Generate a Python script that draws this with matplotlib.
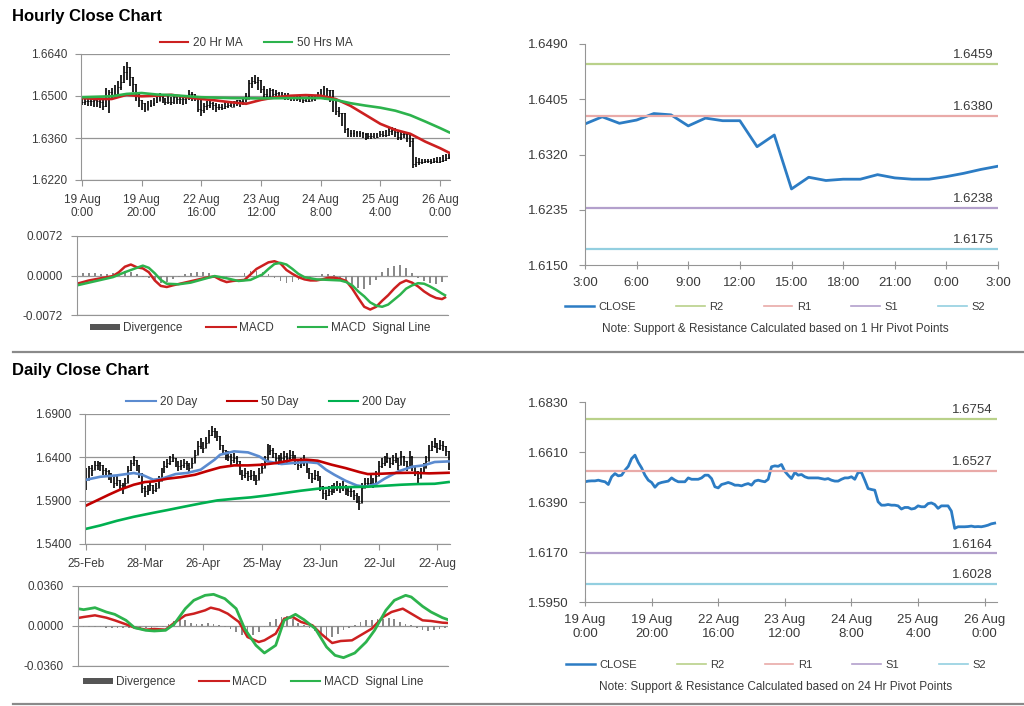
import matplotlib
matplotlib.use('Agg')
import matplotlib.pyplot as plt
from matplotlib.lines import Line2D
from matplotlib.patches import Patch
import numpy as np

plt.rcParams['font.family'] = ['Liberation Sans', 'DejaVu Sans']

# ---------------- hourly data (19 Aug 0:00 -> 26 Aug ~3:00) ----------------
hour_labels = ['19 Aug\n0:00', '19 Aug\n20:00', '22 Aug\n16:00', '23 Aug\n12:00',
               '24 Aug\n8:00', '25 Aug\n4:00', '26 Aug\n0:00']
hour_ticks = [0, 20, 40, 60, 80, 100, 120]

hourly_close = [1.6479, 1.6482, 1.6483, 1.6483, 1.6486, 1.6482, 1.6479, 1.6467, 1.6501, 1.6515,
                1.6505, 1.6508, 1.6530, 1.6547, 1.6581, 1.6596, 1.6564, 1.6540, 1.6508, 1.6486,
                1.6476, 1.6455, 1.6471, 1.6476, 1.6479, 1.6482, 1.6496, 1.6486, 1.6479, 1.6479,
                1.6479, 1.6496, 1.6490, 1.6490, 1.6490, 1.6496, 1.6508, 1.6508, 1.6493, 1.6457,
                1.6452, 1.6467, 1.6471, 1.6476, 1.6471, 1.6464, 1.6464, 1.6461, 1.6467, 1.6471,
                1.6464, 1.6482, 1.6486, 1.6482, 1.6479, 1.6490, 1.6545, 1.6549, 1.6547, 1.6555,
                1.6525, 1.6508, 1.6493, 1.6520, 1.6508, 1.6511, 1.6501, 1.6496, 1.6496, 1.6496,
                1.6496, 1.6493, 1.6490, 1.6493, 1.6486, 1.6482, 1.6482, 1.6490, 1.6496, 1.6496,
                1.6501, 1.6490, 1.6520, 1.6520, 1.6486, 1.6449, 1.6445, 1.6442, 1.6391, 1.6376,
                1.6376, 1.6379, 1.6376, 1.6376, 1.6373, 1.6359, 1.6366, 1.6366, 1.6359, 1.6362,
                1.6373, 1.6369, 1.6369, 1.6383, 1.6386, 1.6379, 1.6362, 1.6373, 1.6373, 1.6373,
                1.6350, 1.6274, 1.6281, 1.6281, 1.6281, 1.6282, 1.6284, 1.6281, 1.6282, 1.6281,
                1.6284, 1.6288, 1.6294, 1.6297]

hourly_high = [1.6499, 1.6496, 1.6493, 1.6490, 1.6490, 1.6487, 1.6487, 1.6487, 1.6526, 1.6521,
               1.6526, 1.6538, 1.6549, 1.6571, 1.6599, 1.6615, 1.6593, 1.6560, 1.6532, 1.6504,
               1.6487, 1.6476, 1.6482, 1.6487, 1.6493, 1.6504, 1.6510, 1.6501, 1.6493, 1.6499,
               1.6496, 1.6499, 1.6496, 1.6499, 1.6499, 1.6499, 1.6521, 1.6512, 1.6504, 1.6493,
               1.6487, 1.6476, 1.6482, 1.6482, 1.6479, 1.6476, 1.6474, 1.6474, 1.6479, 1.6482,
               1.6485, 1.6485, 1.6487, 1.6487, 1.6490, 1.6510, 1.6554, 1.6565, 1.6571, 1.6563,
               1.6554, 1.6534, 1.6523, 1.6526, 1.6523, 1.6519, 1.6515, 1.6514, 1.6510, 1.6510,
               1.6505, 1.6504, 1.6501, 1.6499, 1.6496, 1.6496, 1.6499, 1.6503, 1.6505, 1.6514,
               1.6525, 1.6532, 1.6527, 1.6512, 1.6493, 1.6482, 1.6465, 1.6443, 1.6412, 1.6394,
               1.6387, 1.6387, 1.6383, 1.6382, 1.6380, 1.6376, 1.6376, 1.6376, 1.6376, 1.6378,
               1.6382, 1.6383, 1.6387, 1.6393, 1.6398, 1.6393, 1.6387, 1.6382, 1.6382, 1.6378,
               1.6376, 1.6359, 1.6298, 1.6292, 1.6289, 1.6289, 1.6289, 1.6291, 1.6292, 1.6296,
               1.6298, 1.6302, 1.6307, 1.6307]

hourly_low = [1.6471, 1.6470, 1.6467, 1.6467, 1.6465, 1.6465, 1.6460, 1.6454, 1.6465, 1.6443,
              1.6487, 1.6493, 1.6504, 1.6521, 1.6543, 1.6554, 1.6532, 1.6515, 1.6482, 1.6465,
              1.6454, 1.6448, 1.6460, 1.6465, 1.6467, 1.6476, 1.6482, 1.6476, 1.6471, 1.6474,
              1.6471, 1.6474, 1.6472, 1.6474, 1.6471, 1.6473, 1.6487, 1.6482, 1.6482, 1.6448,
              1.6432, 1.6443, 1.6454, 1.6460, 1.6454, 1.6448, 1.6454, 1.6454, 1.6456, 1.6460,
              1.6463, 1.6465, 1.6467, 1.6465, 1.6470, 1.6482, 1.6504, 1.6526, 1.6541, 1.6521,
              1.6510, 1.6493, 1.6492, 1.6499, 1.6496, 1.6493, 1.6492, 1.6492, 1.6487, 1.6487,
              1.6485, 1.6482, 1.6482, 1.6481, 1.6476, 1.6479, 1.6481, 1.6485, 1.6483, 1.6492,
              1.6496, 1.6499, 1.6494, 1.6479, 1.6448, 1.6437, 1.6429, 1.6400, 1.6376, 1.6365,
              1.6365, 1.6365, 1.6365, 1.6363, 1.6360, 1.6354, 1.6358, 1.6356, 1.6359, 1.6363,
              1.6365, 1.6365, 1.6365, 1.6367, 1.6370, 1.6365, 1.6354, 1.6354, 1.6359, 1.6348,
              1.6331, 1.6259, 1.6265, 1.6270, 1.6273, 1.6276, 1.6276, 1.6273, 1.6276, 1.6276,
              1.6278, 1.6281, 1.6285, 1.6289]

ma20_idx = [0, 5, 10, 15, 20, 25, 30, 35, 40, 45, 50, 55, 60, 65, 70, 75, 80, 85, 90, 95,
            100, 105, 110, 115, 120, 123]
ma20_hr = [1.6493, 1.6490, 1.6490, 1.6504, 1.6499, 1.6501, 1.6504, 1.6496, 1.6490, 1.6485,
           1.6479, 1.6474, 1.6487, 1.6496, 1.6501, 1.6503, 1.6501, 1.6490, 1.6467, 1.6437,
           1.6407, 1.6387, 1.6374, 1.6348, 1.6326, 1.6311]
ma50_idx = [0, 10, 15, 20, 25, 30, 40, 50, 60, 70, 80, 85, 90, 95, 100, 105, 110, 115, 120, 123]
ma50_hr = [1.6496, 1.6499, 1.6507, 1.6510, 1.6505, 1.6503, 1.6496, 1.6493, 1.6492, 1.6493,
           1.6493, 1.6487, 1.6476, 1.6468, 1.6461, 1.6451, 1.6436, 1.6415, 1.6393, 1.6379]

# hourly MACD
hmacd_idx = [0, 4, 8, 12, 14, 16, 18, 20, 22, 24, 26, 28, 30, 32, 36, 40, 44, 46, 48, 50,
             52, 56, 58, 60, 62, 64, 66, 68, 70, 72, 74, 76, 78, 80, 82, 84, 86, 88, 90, 92,
             94, 96, 98, 100, 102, 104, 106, 108, 110, 112, 114, 116, 118, 120, 122, 123]
hmacd = [-0.0015, -0.0009, -0.0005, -0.0001, 0.0006, 0.0016, 0.0020, 0.0015, 0.0013, 0.0006,
         -0.0009, -0.0019, -0.0021, -0.0018, -0.0013, -0.0008, -0.0003, -0.0002, -0.0008, -0.0012,
         -0.0010, -0.0008, 0.0002, 0.0012, 0.0018, 0.0024, 0.0026, 0.0022, 0.0010, 0.0003,
         -0.0003, -0.0007, -0.0009, -0.0009, -0.0007, -0.0004, -0.0004, -0.0006, -0.0010, -0.0024,
         -0.0041, -0.0057, -0.0062, -0.0057, -0.0046, -0.0036, -0.0024, -0.0014, -0.0009, -0.0013,
         -0.0020, -0.0029, -0.0036, -0.0041, -0.0043, -0.0040]
hsig_idx = [0, 4, 8, 12, 16, 20, 22, 24, 26, 28, 30, 34, 38, 42, 46, 50, 54, 58, 62, 64,
            66, 68, 70, 72, 74, 76, 80, 84, 88, 90, 92, 94, 96, 98, 100, 102, 104, 106, 108, 110,
            112, 114, 116, 118, 120, 122, 123]
hsig = [-0.0018, -0.0013, -0.0008, -0.0003, 0.0006, 0.0014, 0.0018, 0.0014, 0.0004, -0.0008,
        -0.0015, -0.0016, -0.0013, -0.0007, -0.0001, -0.0005, -0.0010, -0.0008, 0.0002, 0.0012,
        0.0021, 0.0023, 0.0020, 0.0012, 0.0003, -0.0003, -0.0007, -0.0008, -0.0009, -0.0012,
        -0.0018, -0.0029, -0.0038, -0.0049, -0.0055, -0.0057, -0.0053, -0.0044, -0.0035, -0.0024,
        -0.0018, -0.0014, -0.0015, -0.0020, -0.0026, -0.0033, -0.0036]
hdiv = [0.0003, 0.0004, 0.0005, 0.0005, 0.0003, 0.0002, 0.0004, 0.0007, 0.0009, 0.0006,
        0.0002, -0.0002, -0.0005, -0.0010, -0.0014, -0.0012, -0.0007, -0.0002, 0.0003, 0.0005,
        0.0006, 0.0006, 0.0004, 0.0001, -0.0003, -0.0004, -0.0003, 0.0000, 0.0004, 0.0008,
        0.0009, 0.0007, 0.0003, -0.0004, -0.0010, -0.0014, -0.0012, -0.0008, -0.0005, -0.0004,
        -0.0002, 0.0002, 0.0003, 0.0001, -0.0005, -0.0010, -0.0016, -0.0022, -0.0024, -0.0018,
        -0.0008, 0.0006, 0.0014, 0.0018, 0.0020, 0.0014, 0.0004, -0.0004, -0.0010, -0.0014,
        -0.0015, -0.0012]

# last 24 hours (1 Hr pivots)
last24_labels = ['3:00', '6:00', '9:00', '12:00', '15:00', '18:00', '21:00', '0:00', '3:00']
last24_close = [1.6367, 1.6378, 1.6368, 1.6373, 1.6383, 1.6381, 1.6364, 1.6376, 1.6372, 1.6372,
                1.6332, 1.6350, 1.6267, 1.6285, 1.6280, 1.6282, 1.6282, 1.6289, 1.6284, 1.6282,
                1.6282, 1.6286, 1.6291, 1.6297, 1.6302]
pivot_1h = {'R2': 1.6459, 'R1': 1.6380, 'S1': 1.6238, 'S2': 1.6175}
pivot_24h = {'R2': 1.6754, 'R1': 1.6527, 'S1': 1.6164, 'S2': 1.6028}

# ---------------- daily data (25-Feb -> 26-Aug) ----------------
day_labels = ['25-Feb', '28-Mar', '26-Apr', '25-May', '23-Jun', '22-Jul', '22-Aug']
day_ticks = [0, 21, 42, 63, 84, 105, 126]

daily_close = [1.6142, 1.6276, 1.6257, 1.6315, 1.6334, 1.6315, 1.6257, 1.6238, 1.6219, 1.6180,
               1.6103, 1.6142, 1.6084, 1.6045, 1.6103, 1.6257, 1.6334, 1.6373, 1.6315, 1.6219,
               1.6045, 1.6007, 1.6026, 1.6084, 1.6026, 1.6045, 1.6122, 1.6219, 1.6296, 1.6334,
               1.6353, 1.6392, 1.6334, 1.6296, 1.6315, 1.6334, 1.6315, 1.6276, 1.6334, 1.6430,
               1.6527, 1.6565, 1.6507, 1.6565, 1.6661, 1.6700, 1.6681, 1.6642, 1.6546, 1.6488,
               1.6430, 1.6411, 1.6373, 1.6392, 1.6353, 1.6257, 1.6199, 1.6219, 1.6180, 1.6199,
               1.6180, 1.6142, 1.6219, 1.6276, 1.6353, 1.6469, 1.6488, 1.6450, 1.6392, 1.6373,
               1.6392, 1.6411, 1.6392, 1.6430, 1.6411, 1.6373, 1.6315, 1.6334, 1.6353, 1.6276,
               1.6219, 1.6161, 1.6199, 1.6180, 1.6065, 1.5988, 1.5968, 1.6007, 1.6026, 1.6045,
               1.6065, 1.6045, 1.6065, 1.6026, 1.6007, 1.6007, 1.5968, 1.5930, 1.5872, 1.6045,
               1.6103, 1.6103, 1.6142, 1.6103, 1.6180, 1.6296, 1.6334, 1.6353, 1.6392, 1.6334,
               1.6373, 1.6392, 1.6315, 1.6411, 1.6353, 1.6296, 1.6411, 1.6296, 1.6238, 1.6161,
               1.6219, 1.6276, 1.6353, 1.6488, 1.6527, 1.6565, 1.6507, 1.6546, 1.6527, 1.6469,
               1.6315]
daily_high = [1.6276, 1.6296, 1.6315, 1.6361, 1.6361, 1.6346, 1.6315, 1.6276, 1.6257, 1.6219,
              1.6180, 1.6180, 1.6142, 1.6103, 1.6161, 1.6296, 1.6373, 1.6411, 1.6373, 1.6296,
              1.6122, 1.6065, 1.6084, 1.6130, 1.6084, 1.6103, 1.6180, 1.6276, 1.6353, 1.6384,
              1.6411, 1.6438, 1.6392, 1.6353, 1.6373, 1.6384, 1.6361, 1.6334, 1.6392, 1.6488,
              1.6584, 1.6623, 1.6577, 1.6630, 1.6719, 1.6758, 1.6738, 1.6700, 1.6604, 1.6546,
              1.6488, 1.6469, 1.6438, 1.6450, 1.6411, 1.6315, 1.6257, 1.6276, 1.6238, 1.6257,
              1.6238, 1.6199, 1.6276, 1.6334, 1.6411, 1.6553, 1.6546, 1.6507, 1.6450, 1.6430,
              1.6450, 1.6469, 1.6450, 1.6488, 1.6469, 1.6430, 1.6373, 1.6392, 1.6430, 1.6334,
              1.6276, 1.6219, 1.6257, 1.6238, 1.6122, 1.6045, 1.6026, 1.6065, 1.6084, 1.6103,
              1.6122, 1.6103, 1.6122, 1.6084, 1.6065, 1.6065, 1.6026, 1.5988, 1.5949, 1.6103,
              1.6161, 1.6161, 1.6199, 1.6161, 1.6238, 1.6353, 1.6392, 1.6411, 1.6450, 1.6392,
              1.6430, 1.6450, 1.6373, 1.6469, 1.6411, 1.6353, 1.6469, 1.6353, 1.6296, 1.6219,
              1.6276, 1.6334, 1.6411, 1.6546, 1.6584, 1.6623, 1.6565, 1.6604, 1.6584, 1.6527,
              1.6373]
daily_low = [1.6026, 1.6142, 1.6180, 1.6257, 1.6257, 1.6238, 1.6199, 1.6169, 1.6142, 1.6103,
             1.6045, 1.6065, 1.6026, 1.5976, 1.6045, 1.6122, 1.6238, 1.6296, 1.6238, 1.6161,
             1.5988, 1.5938, 1.5968, 1.6007, 1.5976, 1.5999, 1.6065, 1.6161, 1.6238, 1.6276,
             1.6315, 1.6346, 1.6284, 1.6245, 1.6257, 1.6276, 1.6257, 1.6219, 1.6276, 1.6373,
             1.6469, 1.6500, 1.6450, 1.6507, 1.6604, 1.6642, 1.6623, 1.6584, 1.6488, 1.6430,
             1.6373, 1.6353, 1.6315, 1.6334, 1.6296, 1.6199, 1.6142, 1.6161, 1.6122, 1.6142,
             1.6122, 1.6076, 1.6161, 1.6219, 1.6296, 1.6423, 1.6430, 1.6392, 1.6334, 1.6315,
             1.6334, 1.6353, 1.6334, 1.6373, 1.6353, 1.6315, 1.6257, 1.6276, 1.6296, 1.6219,
             1.6153, 1.6103, 1.6142, 1.6122, 1.6007, 1.5922, 1.5911, 1.5949, 1.5968, 1.5988,
             1.6007, 1.5988, 1.6007, 1.5968, 1.5949, 1.5938, 1.5911, 1.5872, 1.5795, 1.5968,
             1.6045, 1.6045, 1.6076, 1.6045, 1.6122, 1.6238, 1.6276, 1.6296, 1.6334, 1.6276,
             1.6315, 1.6334, 1.6257, 1.6353, 1.6296, 1.6238, 1.6353, 1.6238, 1.6180, 1.6103,
             1.6161, 1.6219, 1.6296, 1.6430, 1.6469, 1.6507, 1.6450, 1.6488, 1.6469, 1.6411,
             1.6257]

ma20d_idx = [0, 5, 11, 17, 20, 24, 27, 32, 36, 41, 46, 48, 53, 58, 62, 65, 70, 74, 79, 83,
             86, 89, 93, 97, 100, 104, 107, 112, 117, 121, 125, 130]
ma20_day = [1.6142, 1.6176, 1.6192, 1.6219, 1.6199, 1.6142, 1.6153, 1.6207, 1.6219, 1.6257,
            1.6373, 1.6430, 1.6469, 1.6457, 1.6411, 1.6353, 1.6323, 1.6334, 1.6346, 1.6334,
            1.6257, 1.6199, 1.6130, 1.6076, 1.6061, 1.6092, 1.6153, 1.6238, 1.6292, 1.6307,
            1.6346, 1.6353]
ma50d_idx = [0, 3, 8, 12, 17, 21, 24, 29, 34, 39, 43, 48, 53, 58, 63, 68, 74, 79, 83, 88,
             93, 98, 101, 106, 111, 117, 123, 130]
ma50_day = [1.5845, 1.5891, 1.5968, 1.6026, 1.6084, 1.6115, 1.6122, 1.6153, 1.6172, 1.6199,
            1.6238, 1.6284, 1.6307, 1.6307, 1.6315, 1.6334, 1.6369, 1.6373, 1.6361, 1.6315,
            1.6276, 1.6230, 1.6207, 1.6211, 1.6219, 1.6222, 1.6215, 1.6222]
ma200d_idx = [0, 5, 11, 17, 24, 29, 35, 41, 47, 53, 59, 65, 71, 77, 83, 89, 95, 101, 107, 113,
              119, 125, 130]
ma200_day = [1.5576, 1.5614, 1.5668, 1.5714, 1.5760, 1.5791, 1.5830, 1.5868, 1.5903, 1.5922,
             1.5938, 1.5961, 1.5988, 1.6015, 1.6038, 1.6053, 1.6057, 1.6061, 1.6072, 1.6084,
             1.6092, 1.6095, 1.6115]

dmacd_idx = [0, 2, 6, 10, 13, 17, 20, 24, 27, 31, 34, 38, 41, 45, 47, 50, 53, 57, 60, 64,
             66, 70, 73, 76, 79, 83, 86, 90, 93, 97, 101, 104, 108, 111, 115, 118, 122, 125, 129, 131]
dmacd = [0.0072, 0.0081, 0.0096, 0.0075, 0.0051, 0.0015, -0.0015, -0.0033, -0.0027, -0.0033,
         0.0027, 0.0096, 0.0111, 0.0141, 0.0165, 0.0147, 0.0111, 0.0036, -0.0099, -0.0144,
         -0.0129, -0.0069, 0.0066, 0.0081, 0.0036, 0.0006, -0.0069, -0.0153, -0.0135, -0.0129,
         -0.0069, -0.0024, 0.0081, 0.0126, 0.0156, 0.0111, 0.0051, 0.0045, 0.0030, 0.0027]
dsig_idx = [0, 2, 6, 10, 13, 17, 20, 24, 27, 31, 34, 38, 41, 45, 48, 52, 56, 59, 63, 66,
            70, 73, 77, 80, 84, 88, 91, 94, 98, 102, 105, 109, 112, 116, 118, 122, 125, 129, 131]
dsig = [0.0156, 0.0147, 0.0165, 0.0126, 0.0105, 0.0051, -0.0015, -0.0039, -0.0045, -0.0039,
        0.0015, 0.0156, 0.0231, 0.0276, 0.0285, 0.0246, 0.0156, -0.0024, -0.0174, -0.0243,
        -0.0174, 0.0051, 0.0105, 0.0057, -0.0024, -0.0189, -0.0264, -0.0285, -0.0243, -0.0144,
        -0.0039, 0.0141, 0.0231, 0.0276, 0.0261, 0.0177, 0.0126, 0.0075, 0.0057]
ddiv = [-0.0010, -0.0006, -0.0008, -0.0012, -0.0012, -0.0015, -0.0018, -0.0015, -0.0020, -0.0020,
        -0.0015, -0.0020, -0.0018, -0.0015, -0.0012, -0.0010, 0.0020, 0.0045, 0.0060, 0.0055,
        0.0030, 0.0020, 0.0020, 0.0025, 0.0018, 0.0010, -0.0010, -0.0030, -0.0055, -0.0085,
        -0.0100, -0.0080, -0.0050, -0.0010, 0.0035, 0.0065, 0.0085, 0.0090, 0.0060, 0.0030,
        0.0010, -0.0020, -0.0045, -0.0070, -0.0095, -0.0100, -0.0070, -0.0040, -0.0020, 0.0010,
        0.0035, 0.0050, 0.0055, 0.0060, 0.0065, 0.0075, 0.0060, 0.0035, 0.0020, 0.0005,
        -0.0020, -0.0035, -0.0045, -0.0040, -0.0030, -0.0020]

# ---------------- styling ----------------
W, H = 1024, 706
AX = '#959595'
TXT = '#3a3a3a'
RED = '#cc2020'
GRN = '#2db34d'
BLUE_D = '#5b8bd0'
RED_D = '#c00000'
GRN_D = '#00b050'
CLOSE_C = '#2c7cc4'
LEVEL_C = {'R2': '#b9d18a', 'R1': '#e9aaa8', 'S1': '#b3a0cc', 'S2': '#93cfe0'}


def box(l, t, r, b):
    return [l / W, 1 - b / H, (r - l) / W, (b - t) / H]


def style(ax, size=8.5, grid=True):
    for s in ['top', 'right']:
        ax.spines[s].set_visible(False)
    ax.spines['left'].set_color(AX)
    ax.spines['bottom'].set_color(AX)
    ax.tick_params(colors=AX, labelcolor=TXT, labelsize=size, length=4, direction='out', pad=6)
    if grid:
        ax.yaxis.grid(True, color=AX, lw=0.9)
        ax.set_axisbelow(True)


def draw_bars(ax, close, high, low):
    close = np.asarray(close)
    x = np.arange(len(close))
    opn = np.r_[close[0], close[:-1]]
    top = np.maximum.reduce([np.asarray(high), close, opn])
    bot = np.minimum.reduce([np.asarray(low), close, opn])
    ax.vlines(x, bot, top, color='black', lw=1.2)
    ax.hlines(close, x, x + 0.3, color='black', lw=0.7)
    ax.hlines(opn, x - 0.3, x, color='black', lw=0.7)


def macd_legend(fig, cx, cy):
    handles = [Patch(facecolor='#555555', edgecolor='none', label='Divergence'),
               Line2D([], [], color=RED, lw=1.5, label='MACD'),
               Line2D([], [], color=GRN, lw=1.5, label='MACD  Signal Line')]
    fig.legend(handles=handles, loc='center', bbox_to_anchor=(cx / W, 1 - cy / H), ncol=3,
               frameon=False, fontsize=8.5, handlelength=2.5, handleheight=0.45,
               handletextpad=0.3, columnspacing=2.0, labelcolor=TXT)


def levels_chart(ax, x, y, levels, ylim, yticks):
    ax.plot(x, y, color=CLOSE_C, lw=2)
    for k, v in levels.items():
        ax.axhline(v, color=LEVEL_C[k], lw=1.6)
        ax.annotate(f'{v:.4f}', xy=(1, v), xycoords=('axes fraction', 'data'),
                    xytext=(-3, 2), textcoords='offset points', ha='right', va='bottom',
                    fontsize=9.5, color=TXT)
    ax.set_ylim(*ylim)
    ax.set_yticks(yticks)
    ax.set_yticklabels([f'{t:.4f}' for t in yticks])
    style(ax, size=9.5, grid=False)
    ax.tick_params(pad=8)
    ax.tick_params(axis='x', direction='inout', length=6, pad=6)


def levels_legend(fig, cx, cy, note, ny):
    handles = [Line2D([], [], color=CLOSE_C, lw=1.8, label='CLOSE')]
    handles += [Line2D([], [], color=LEVEL_C[k], lw=1.2, label=k) for k in ['R2', 'R1', 'S1', 'S2']]
    fig.legend(handles=handles, loc='center', bbox_to_anchor=(cx / W, 1 - cy / H), ncol=5,
               frameon=False, fontsize=8, handlelength=2.6, handletextpad=0.4,
               columnspacing=3.6, labelcolor=TXT)
    fig.text(cx / W, 1 - ny / H, note, ha='center', va='center', fontsize=8.5, color=TXT)


fig = plt.figure(figsize=(W / 100, H / 100), dpi=100)
fig.patch.set_facecolor('white')

fig.text(12 / W, 1 - 16 / H, 'Hourly Close Chart', fontsize=12, fontweight='bold', va='center')
fig.text(12 / W, 1 - 370 / H, 'Daily Close Chart', fontsize=12, fontweight='bold', va='center')
for yy in (352, 704):
    fig.add_artist(Line2D([13 / W, 1.0], [1 - yy / H] * 2, color='#8a8a8a', lw=1.6))

# ---- hourly price ----
ax1 = fig.add_axes(box(81, 54, 450, 180))
draw_bars(ax1, hourly_close, hourly_high, hourly_low)
ax1.plot(ma20_idx, ma20_hr, color=RED, lw=1.9)
ax1.plot(ma50_idx, ma50_hr, color=GRN, lw=1.9)
ax1.set_xlim(-0.3, 123.3)
ax1.set_ylim(1.6220, 1.6640)
yt = [1.6220, 1.6360, 1.6500, 1.6640]
ax1.set_yticks(yt)
ax1.set_yticklabels([f'{t:.4f}' for t in yt])
ax1.set_xticks(hour_ticks)
ax1.set_xticklabels(hour_labels, linespacing=1.15)
style(ax1)
fig.legend(handles=[Line2D([], [], color=RED, lw=1.5, label='20 Hr MA'),
                    Line2D([], [], color=GRN, lw=1.5, label='50 Hrs MA')],
           loc='center', bbox_to_anchor=(256 / W, 1 - 43 / H), ncol=2, frameon=False,
           fontsize=8.5, handlelength=2.4, handletextpad=0.4, columnspacing=1.8, labelcolor=TXT)

# ---- hourly MACD ----
ax2 = fig.add_axes(box(77, 236, 448, 315))
ax2.bar(np.arange(0, 2 * len(hdiv), 2), hdiv, width=0.6, color='#8a8a8a')
ax2.plot(hmacd_idx, hmacd, color=RED, lw=1.8)
ax2.plot(hsig_idx, hsig, color=GRN, lw=1.8)
ax2.set_xlim(0, 124)
ax2.set_ylim(-0.0072, 0.0072)
yt = [-0.0072, 0.0, 0.0072]
ax2.set_yticks(yt)
ax2.set_yticklabels([f'{t:.4f}' for t in yt])
ax2.set_xticks([])
style(ax2)
macd_legend(fig, 260, 328)

# ---- last 24 h with 1 Hr pivots ----
ax3 = fig.add_axes(box(585, 44, 998, 265))
levels_chart(ax3, np.arange(len(last24_close)), last24_close, pivot_1h,
             (1.6150, 1.6490), [1.6150, 1.6235, 1.6320, 1.6405, 1.6490])
ax3.set_xlim(0, 24)
ax3.set_xticks(np.arange(0, 25, 3))
ax3.set_xticklabels(last24_labels)
levels_legend(fig, 775, 307, 'Note: Support & Resistance Calculated based on 1 Hr Pivot Points', 329)

# ---- daily price ----
ax4 = fig.add_axes(box(85, 414, 450, 544))
draw_bars(ax4, daily_close, daily_high, daily_low)
ax4.plot(ma20d_idx, ma20_day, color=BLUE_D, lw=1.9)
ax4.plot(ma50d_idx, ma50_day, color=RED_D, lw=1.9)
ax4.plot(ma200d_idx, ma200_day, color=GRN_D, lw=1.9)
ax4.set_xlim(-0.5, 130.5)
ax4.set_ylim(1.5400, 1.6900)
yt = [1.5400, 1.5900, 1.6400, 1.6900]
ax4.set_yticks(yt)
ax4.set_yticklabels([f'{t:.4f}' for t in yt])
ax4.set_xticks(day_ticks)
ax4.set_xticklabels(day_labels)
style(ax4)
fig.legend(handles=[Line2D([], [], color=BLUE_D, lw=1.5, label='20 Day'),
                    Line2D([], [], color=RED_D, lw=1.5, label='50 Day'),
                    Line2D([], [], color=GRN_D, lw=1.5, label='200 Day')],
           loc='center', bbox_to_anchor=(266 / W, 1 - 402 / H), ncol=3, frameon=False,
           fontsize=8.5, handlelength=2.5, handletextpad=0.3, columnspacing=2.6, labelcolor=TXT)

# ---- daily MACD ----
ax5 = fig.add_axes(box(78, 586, 448, 666))
ax5.bar(np.arange(0, 2 * len(ddiv), 2), ddiv, width=0.6, color='#8a8a8a')
ax5.plot(dmacd_idx, dmacd, color=RED, lw=1.8)
ax5.plot(dsig_idx, dsig, color=GRN, lw=2.0)
ax5.set_xlim(0, 131)
ax5.set_ylim(-0.036, 0.036)
yt = [-0.036, 0.0, 0.036]
ax5.set_yticks(yt)
ax5.set_yticklabels([f'{t:.4f}' for t in yt])
ax5.set_xticks([])
style(ax5)
macd_legend(fig, 253, 682)

# ---- hourly close with 24 Hr pivots ----
ax6 = fig.add_axes(box(585, 402, 997, 602))
levels_chart(ax6, np.arange(len(hourly_close)), hourly_close, pivot_24h,
             (1.5950, 1.6830), [1.5950, 1.6170, 1.6390, 1.6610, 1.6830])
ax6.set_xlim(0, 123.7)
ax6.set_xticks(hour_ticks)
ax6.set_xticklabels(hour_labels, linespacing=1.15)
levels_legend(fig, 776, 665, 'Note: Support & Resistance Calculated based on 24 Hr Pivot Points', 687)

fig.savefig('out.png', dpi=100)
